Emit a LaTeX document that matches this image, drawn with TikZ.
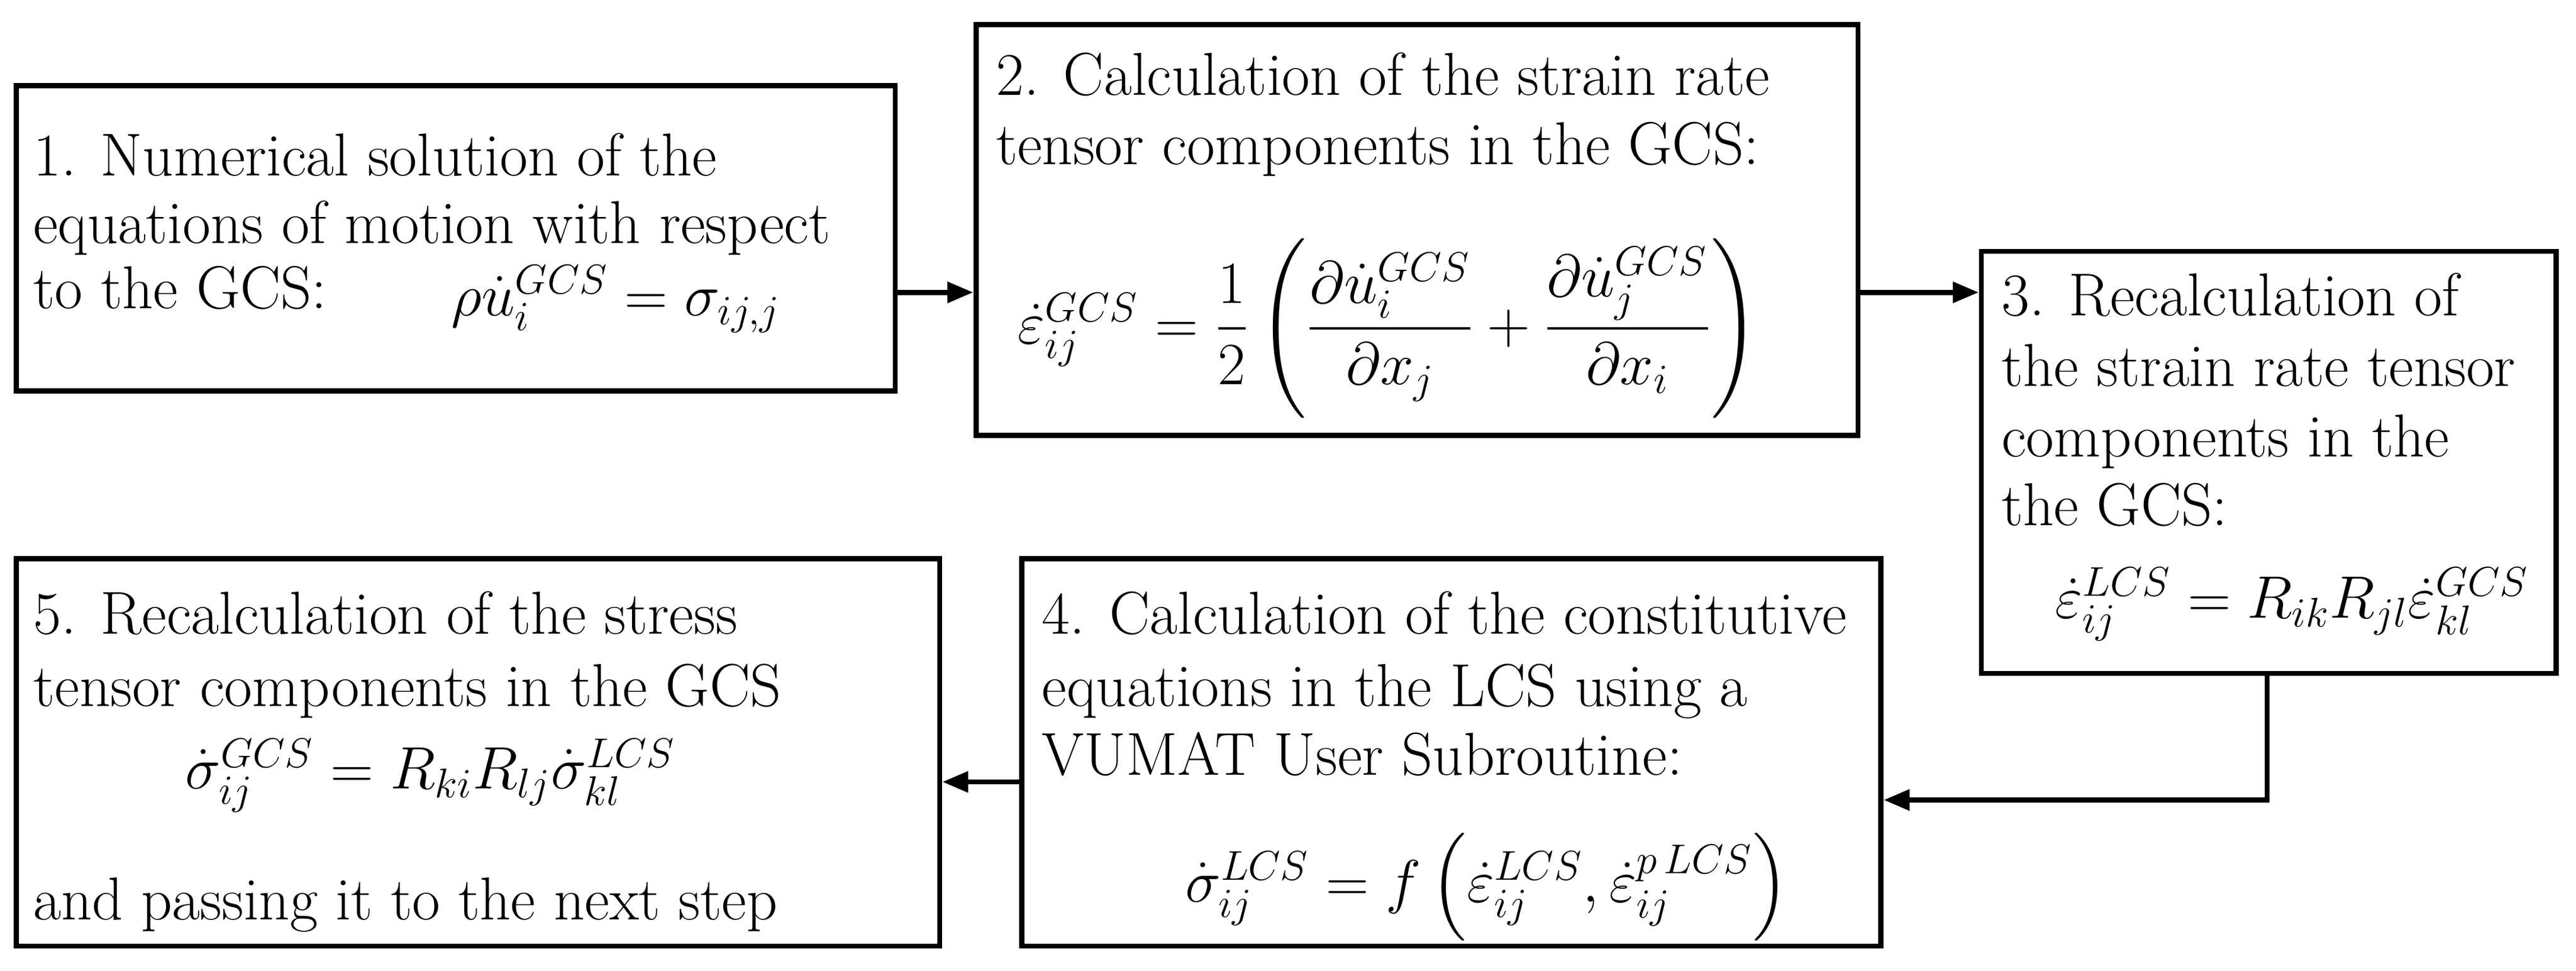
\documentclass[tikz,border=0pt]{standalone}
\usepackage{amsmath}
\usetikzlibrary{arrows.meta}
\begin{document}
\begin{tikzpicture}[x=0.02cm,y=-0.02cm,
  box/.style={draw,line width=1.8pt,minimum width=#1,inner sep=0pt},
  t/.style={anchor=base west,inner sep=0pt,font=\fontsize{21}{25}\selectfont},
  f/.style={anchor=center,inner sep=0pt,font=\fontsize{21}{25}\selectfont},
  arr/.style={line width=1.8pt,-{Triangle[length=9pt,width=7pt]}}]
\useasboundingbox (0,0) rectangle (1568,591);
\node[box=10.7cm,minimum height=3.72cm] (b1) at (277.5,145) {};
\node[box=10.74cm,minimum height=5cm] (b2) at (862.5,140) {};
\node[box=7cm,minimum height=5.14cm] (b3) at (1381,281.5) {};
\node[box=10.46cm,minimum height=4.72cm] (b4) at (883.5,458) {};
\node[box=11.24cm,minimum height=4.72cm] (b5) at (291,458) {};
% box 1
\node[t] (t11) at (20,107) {1. Numerical solution of the};
\node[t] (t12) at (20,148) {equations of motion with respect};
\node[t] (t13) at (20,188) {to the GCS:};
\node[f] (f1) at (375,182) {$\rho\dot{u}_i^{GCS}=\sigma_{ij,j}$};
% box 2
\node[t] (t21) at (606,58) {2. Calculation of the strain rate};
\node[t] (t22) at (606,100) {tensor components in the GCS:};
\node[f] (f2) at (845,200) {$\dot{\varepsilon}_{ij}^{GCS}=\dfrac{1}{2}\left(\dfrac{\partial\dot{u}_i^{GCS}}{\partial x_j}+\dfrac{\partial\dot{u}_j^{GCS}}{\partial x_i}\right)$};
% box 3
\node[t] (t31) at (1218,192) {3. Recalculation of};
\node[t] (t32) at (1218,235) {the strain rate tensor};
\node[t] (t33) at (1218,278) {components in the};
\node[t] (t34) at (1218,320) {the GCS:};
\node[f] (f3) at (1395,368) {$\dot{\varepsilon}_{ij}^{LCS}=R_{ik}R_{jl}\dot{\varepsilon}_{kl}^{GCS}$};
% box 4
\node[t] (t41) at (634,386) {4. Calculation of the constitutive};
\node[t] (t42) at (634,430) {equations in the LCS using a};
\node[t] (t43) at (634,472) {VUMAT User Subroutine:};
\node[f] (f4) at (905,540) {$\dot{\sigma}_{ij}^{LCS}=f\left(\dot{\varepsilon}_{ij}^{LCS},\dot{\varepsilon}_{ij}^{p\,LCS}\right)$};
% box 5
\node[t] (t51) at (20,386) {5. Recalculation of the stress};
\node[t] (t52) at (20,430) {tensor components in the GCS};
\node[f] (f5) at (262,472) {$\dot{\sigma}_{ij}^{GCS}=R_{ki}R_{lj}\dot{\sigma}_{kl}^{LCS}$};
\node[t] (t53) at (20,560) {and passing it to the next step};
% arrows
\draw[arr] (b1.east |- 0,178) -- (b2.west |- 0,178);
\draw[arr] (b2.east |- 0,178) -- (b3.west |- 0,178);
\coordinate (c1) at (1380,487);
\draw[arr] (b3.south -| c1) -- (c1) -- (b4.east |- c1);
\draw[arr] (b4.west |- 0,476) -- (b5.east |- 0,476);
\end{tikzpicture}
\end{document}
